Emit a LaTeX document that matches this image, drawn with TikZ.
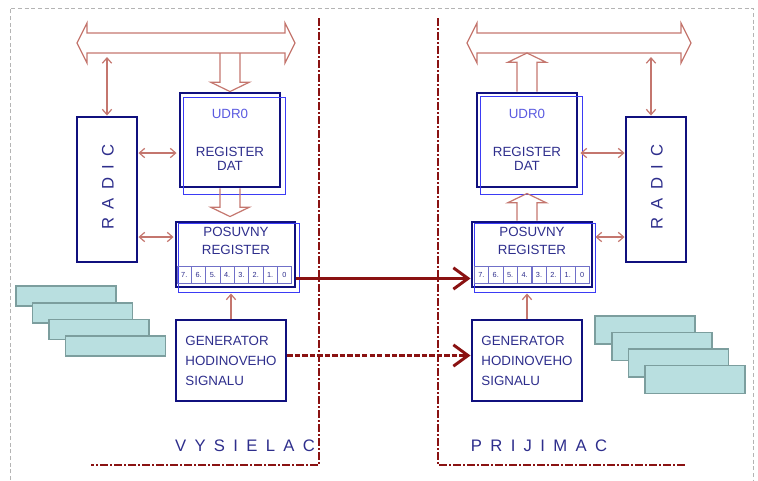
\documentclass[tikz,border=0pt]{standalone}
\usepackage{fontspec}
\setmainfont{Liberation Sans}
\setsansfont{Liberation Sans}
\newfontfamily\spacedfont[LetterSpace=50]{Liberation Sans}
\usetikzlibrary{arrows.meta,calc,positioning}

\definecolor{boxnavy}{HTML}{10107E}
\definecolor{thinblue}{HTML}{3B3BF5}
\definecolor{textblue}{HTML}{2E2E8C}
\definecolor{udrblue}{HTML}{5A5AE0}
\definecolor{cellblue}{HTML}{7070C8}
\definecolor{salmon}{HTML}{C4766E}
\definecolor{darkred}{HTML}{8A1212}
\definecolor{cyanfill}{HTML}{B9DFE0}
\definecolor{cyanline}{HTML}{7C9E9E}
\definecolor{greydash}{HTML}{B4B4B4}

\tikzset{
  box/.style={draw=boxnavy, line width=2.2pt, inner sep=0pt, text=textblue,
    font=\fontsize{10}{10.5}\selectfont, align=center},
  boxtext/.style={text=textblue, inner sep=0pt, font=\fontsize{10}{13.5}\selectfont, align=center},
  thinframe/.style={draw=thinblue, line width=0.8pt},
  blockarr/.style={draw=salmon, line width=0.9pt, line join=miter},
  link/.style={draw=salmon, line width=0.9pt,
    {Straight Barb[length=4pt,width=7pt]}-{Straight Barb[length=4pt,width=7pt]}},
  feed/.style={draw=salmon, line width=0.9pt, -{Straight Barb[length=4pt,width=7pt]}},
  wire/.style={draw=darkred, line width=2.2pt, -{Straight Barb[length=11pt,width=16pt]}},
  clockwire/.style={wire, dash pattern=on 4pt off 1.6pt},
  border/.style={draw=darkred, line width=2.2pt, dash pattern=on 6pt off 1.5pt on 1.5pt off 1.5pt},
  frame/.style={draw=greydash, line width=0.6pt, dash pattern=on 3pt off 2pt},
  bitcell/.style={draw=cellblue, line width=0.5pt, minimum width=10.7pt, minimum height=12.5pt,
    inner sep=0pt, text=textblue, font=\fontsize{5.5}{6}\selectfont},
  card/.style={draw=cyanline, fill=cyanfill, line width=1.2pt, minimum width=75pt, inner sep=0pt},
  sidetitle/.style={text=textblue, inner sep=0pt, font=\spacedfont\fontsize{12.5}{14}\selectfont},
}

\newcommand{\blockarrow}[2]{%
  \draw[blockarr] let \p1=(#1), \p2=(#2), \n1={ifthenelse(\y2>\y1,\y2-7pt,\y2+7pt)} in
    (\x1-7.5pt,\y1) -- (\x1-7.5pt,\n1*1pt) -- (\x1-14.5pt,\n1*1pt) -- (\x1,\y2)
    -- (\x1+14.5pt,\n1*1pt) -- (\x1+7.5pt,\n1*1pt) -- (\x1+7.5pt,\y1);}
\newcommand{\busarrow}[2]{%
  \draw[blockarr] let \p1=(#1), \p2=(#2) in
    (\x1,\y1) -- (\x1+7.5pt,\y1+15pt) -- (\x1+7.5pt,\y1+7.5pt) -- (\x2-7.5pt,\y1+7.5pt)
    -- (\x2-7.5pt,\y1+15pt) -- (\x2,\y1) -- (\x2-7.5pt,\y1-15pt) -- (\x2-7.5pt,\y1-7.5pt)
    -- (\x1+7.5pt,\y1-7.5pt) -- (\x1+7.5pt,\y1-15pt) -- cycle;}

\begin{document}
\begin{tikzpicture}
  [x=0.75pt, y=-0.75pt]
  \useasboundingbox (0,0) rectangle (758,480);
  \draw[frame] (10,480) -- (10,8) -- (753,8) -- (753,480);

  \draw[border] (319,18) -- (319,465) -- (91,465);
  \draw[border] (438,18) -- (438,465) -- (686,465);

  \coordinate (busLw) at (77,43);
  \coordinate (busLe) at (295,43);
  \coordinate (busRw) at (467,43);
  \coordinate (busRe) at (691,43);
  \busarrow{busLw}{busLe}
  \busarrow{busRw}{busRe}

  \node[box, minimum width=45pt, minimum height=108.75pt] (radicL) at (107,189.5) {};
  \node[box, minimum width=75pt, minimum height=70.5pt] (udrL) at (230,140)
    {{\color{udrblue}UDR0}\\[18pt]REGISTER\\DAT};
  \node[box, minimum width=89.25pt, minimum height=48.75pt] (posL) at (235.5,254.5) {};
  \node[box, minimum width=82.5pt, minimum height=60.75pt, align=left,
    font=\fontsize{10}{15}\selectfont] (genL) at (231,360.5)
    {GENERATOR\\HODINOVEHO\\SIGNALU};

  \node[box, minimum width=45pt, minimum height=108.75pt] (radicR) at (656,189.5) {};
  \node[box, minimum width=75pt, minimum height=70.5pt] (udrR) at (527,140)
    {{\color{udrblue}UDR0}\\[18pt]REGISTER\\DAT};
  \node[box, minimum width=90pt, minimum height=48.75pt] (posR) at (532,254.5) {};
  \node[box, minimum width=82.5pt, minimum height=60.75pt, align=left,
    font=\fontsize{10}{15}\selectfont] (genR) at (527,360.5)
    {GENERATOR\\HODINOVEHO\\SIGNALU};

  \draw[thinframe] ($(udrL.north west)+(5,6)$) rectangle ($(udrL.south east)+(4,6)$);
  \draw[thinframe] ($(posL.north west)+(4,3)$) rectangle ($(posL.south east)+(3,4)$);
  \draw[thinframe] ($(udrR.north west)+(5,5)$) rectangle ($(udrR.south east)+(4,6)$);
  \draw[thinframe] ($(posR.north west)+(4,3)$) rectangle ($(posR.south east)+(2,4)$);

  \node[sidetitle, rotate=90] (radicLtxt) at (108,187) {RADIC};
  \node[sidetitle, rotate=90] (radicRtxt) at (657,187) {RADIC};
  \node[boxtext] (posLtxt) at (236,241) {POSUVNY\\REGISTER};
  \node[boxtext] (posRtxt) at (532,241) {POSUVNY\\REGISTER};

  \foreach \b [count=\i] in {7.,6.,5.,4.,3.,2.,1.,0} {
    \node[bitcell] (bitL\i) at ({170+\i*14.3},275) {\b};
    \node[bitcell] (bitR\i) at ({467+\i*14.4},275) {\b};
  }

  \foreach \k in {0,...,3} {
    \node[card, minimum height=15pt] (cardL\k) at ({66+16.5*\k},{296+16.7*\k}) {};
    \node[card, minimum height=21pt] (cardR\k) at ({645+16.7*\k},{330+16.5*\k}) {};
  }

  \node[sidetitle] (txL) at (245,446) {VYSIELAC};
  \node[sidetitle] (txR) at (539,446) {PRIJIMAC};

  \blockarrow{$(udrL.north |- busLw)+(0,10)$}{udrL.north}
  \blockarrow{udrL.south}{$(udrL.south |- posL.north)+(0,-4)$}
  \blockarrow{$(udrR.south |- posR.north)$}{$(udrR.south)+(0,5)$}
  \blockarrow{udrR.north}{$(udrR.north |- busRw)+(0,10)$}

  \coordinate (udrLport) at ($(udrL.west)+(-2,13)$);
  \coordinate (posLport) at ($(posL.west)+(-1,-17.5)$);
  \coordinate (udrRport) at ($(udrR.east)+(2,13)$);
  \coordinate (posRport) at ($(posR.east)+(2,-17.5)$);
  \draw[link] ($(radicL.north |- busLw)+(0,14)$) -- (radicL.north);
  \draw[link] (radicL.east |- udrLport) -- (udrLport);
  \draw[link] (radicL.east |- posLport) -- (posLport);
  \draw[link] ($(radicR.north |- busRw)+(-5,14)$) -- ($(radicR.north)+(-5,0)$);
  \draw[link] (udrRport) -- (radicR.west |- udrRport);
  \draw[link] (posRport) -- (radicR.west |- posRport);
  \draw[feed] (genL.north) -- ($(genL.north |- posL.south)+(0,5)$);
  \draw[feed] (genR.north) -- ($(genR.north |- posR.south)+(0,5)$);

  \draw[wire] ($(posL.south east)+(0,-10)$) -- ($(posR.south west)+(0,-10)$);
  \draw[clockwire] ($(genL.east)+(0,-5)$) -- ($(genR.west)+(0,-5)$);
\end{tikzpicture}
\end{document}
